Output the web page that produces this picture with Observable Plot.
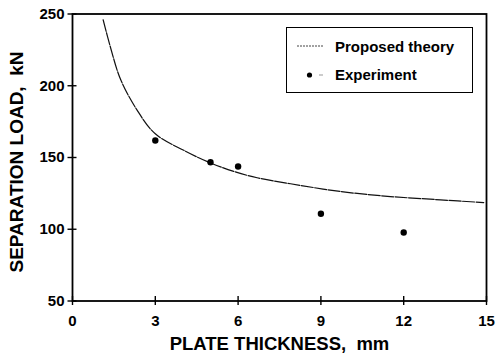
<!DOCTYPE html>
<html>
<head>
<meta charset="utf-8">
<script src="https://cdn.jsdelivr.net/npm/d3@7"></script>
<script src="https://cdn.jsdelivr.net/npm/@observablehq/plot@0.6"></script>
<style>
  html, body { margin: 0; padding: 0; background: #fff; }
  #wrap { position: relative; width: 497px; height: 358px; font-family: "Liberation Sans", Arial, sans-serif; }
  #legend { position: absolute; left: 286px; top: 27px; width: 185px; height: 64px; border: 1.6px solid #000; background: #fff; box-sizing: content-box; }
  #legend svg { position: absolute; left: 0; top: 0; }
  #legend .lbl { position: absolute; left: 48px; font-size: 15px; font-weight: bold; color: #000; white-space: nowrap; line-height: 15px; }
</style>
</head>
<body>
<div id="wrap"></div>
<script>
// Data
const xTicks = [0, 3, 6, 9, 12, 15];
const yTicks = [50, 100, 150, 200, 250];

// Proposed theory curve
const theoryThickness = [1.11, 1.38, 1.74, 2.34, 3.0, 4.03, 5.0, 5.84, 6.69, 7.9, 9.71, 11.52, 13.33, 14.9];
const theoryLoad      = [246, 226.5, 204.5, 183, 166.5, 155, 146.2, 140.3, 135.9, 131.7, 126.3, 122.8, 120.5, 118.6];

// Experiment points
const expThickness = [3, 5, 6, 9, 12];
const expLoad      = [161.8, 146.7, 143.7, 110.8, 97.7];

const xLabel = "PLATE THICKNESS,\u00a0\u00a0mm";
const yLabel = "SEPARATION LOAD,\u00a0\u00a0kN";
const legendLabels = ["Proposed theory", "Experiment"];

const theory = theoryThickness.map((t, i) => ({t, load: theoryLoad[i]}));
const exp = expThickness.map((t, i) => ({t, load: expLoad[i]}));

const chart = Plot.plot({
  width: 497,
  height: 358,
  marginLeft: 72,
  marginRight: 11,
  marginTop: 13.5,
  marginBottom: 57.5,
  style: "font-family: 'Liberation Sans', Arial, sans-serif; font-weight: bold; color: #000; background: #fff;",
  x: {domain: [0, 15]},
  y: {domain: [50, 250]},
  marks: [
    Plot.line(theory, {x: "t", y: "load", stroke: "#111", strokeWidth: 1.2, strokeDasharray: "12,1.5", curve: "catmull-rom"}),
    Plot.dot(exp, {x: "t", y: "load", r: 3.2, fill: "#000", stroke: "none"}),
    Plot.frame({stroke: "#000", strokeWidth: 1.8}),
    // tick marks crossing the axes
    Plot.axisX(xTicks, {tickSize: 9, dy: -4.5, tickFormat: () => "", label: null, strokeWidth: 1.4}),
    Plot.axisY(yTicks, {tickSize: 9, dx: 4.5, tickFormat: () => "", label: null, strokeWidth: 1.4}),
    // tick labels
    Plot.axisX(xTicks, {tickSize: 0, tickPadding: 14, fontSize: 15, fontWeight: "bold", label: null}),
    Plot.axisY(yTicks, {tickSize: 0, tickPadding: 8, fontSize: 15, fontWeight: "bold", label: null}),
    // axis titles
    Plot.text([xLabel], {text: d => d, frameAnchor: "bottom", textAnchor: "middle", dy: 43.5, fontSize: 18.5, fontWeight: "bold", letterSpacing: "1.3px", lineAnchor: "middle"}),
    Plot.text([yLabel], {text: d => d, frameAnchor: "left", textAnchor: "middle", rotate: -90, dx: -55.3, dy: 4.5, fontSize: 19, fontWeight: "bold", letterSpacing: "0.5px", lineAnchor: "middle"})
  ]
});

const wrap = document.getElementById("wrap");
wrap.appendChild(chart);

const legend = document.createElement("div");
legend.id = "legend";
legend.innerHTML = `
  <svg width="185" height="64">
    <line x1="10" x2="36" y1="18" y2="18" stroke="#444" stroke-width="1" stroke-dasharray="2,1"></line>
    <circle cx="22.5" cy="47" r="2.6" fill="#000"></circle>
    <line x1="32" x2="36" y1="47" y2="47" stroke="#999" stroke-width="1"></line>
  </svg>
  <div class="lbl" style="top:11px">${legendLabels[0]}</div>
  <div class="lbl" style="top:39px">${legendLabels[1]}</div>`;
wrap.appendChild(legend);
</script>
</body>
</html>
